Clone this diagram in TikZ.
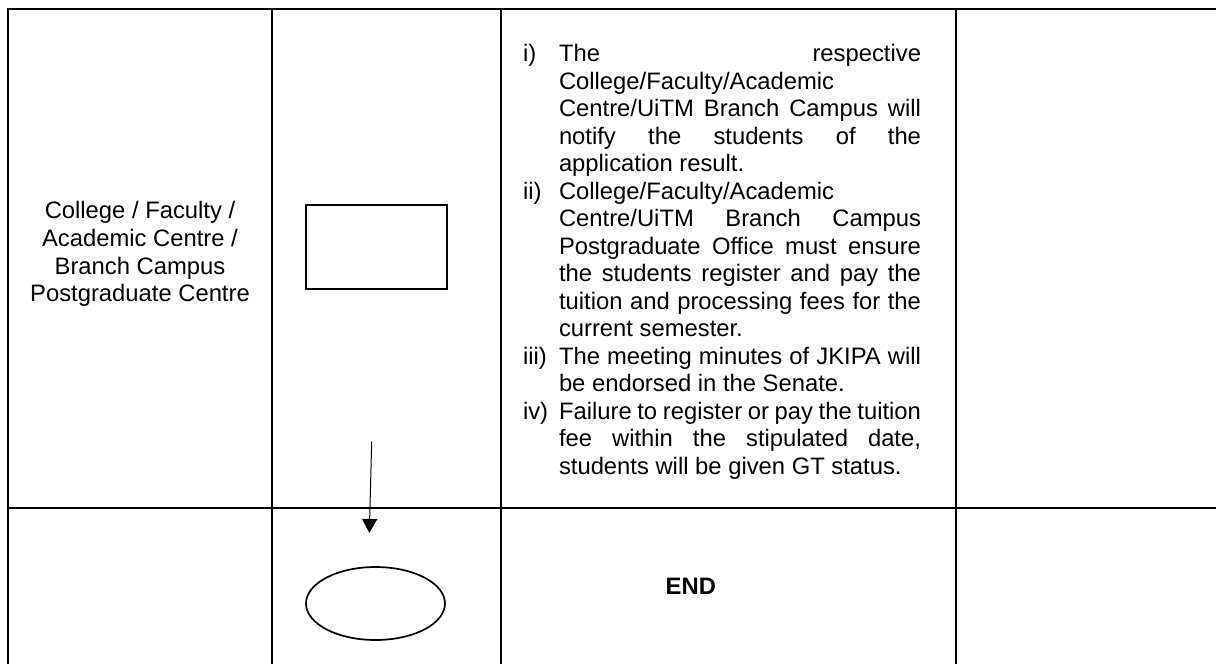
\documentclass[tikz,border=0pt]{standalone}
\usepackage{fontspec}
\setmainfont{Liberation Sans}
\usetikzlibrary{arrows.meta,shapes.geometric}
\newcommand{\jl}[1]{\hbox to 362pt{#1}}
\newcommand{\fl}[1]{\hbox to 362pt{#1\hfil}}
\begin{document}
\begin{tikzpicture}[x=1pt,y=-1pt,
  grid/.style={line width=2pt, line join=miter},
  txt/.style={font=\fontsize{23.8}{27.5}\selectfont, inner sep=0pt, outer sep=0pt},
  line/.style={txt, anchor=base west},
  lab/.style={txt, anchor=base west},
  procbox/.style={draw, line width=2pt, minimum width=141pt, minimum height=84pt, inner sep=0pt},
  terminal/.style={draw, ellipse, line width=1.7pt, minimum width=139pt, minimum height=73pt, inner sep=0pt},
  flow/.style={line width=1pt, -{Triangle[length=14pt,width=15pt]}}]
\useasboundingbox (0,0) rectangle (1216,664);
% table grid
\draw[grid] (8,665) -- (8,9) -- (1217,9);
\draw[grid] (272,9) -- (272,665);
\draw[grid] (500.5,9) -- (500.5,665);
\draw[grid] (956,9) -- (956,665);
\draw[grid] (8,507.5) -- (1217,507.5);
% left column
\node[txt, anchor=base] (o1) at (140,218.5) {College / Faculty /};
\node[txt, anchor=base] (o2) at (140,246.3) {Academic Centre /};
\node[txt, anchor=base] (o3) at (140,274.1) {Branch Campus};
\node[txt, anchor=base] (o4) at (140,301.9) {Postgraduate Centre};
% symbols
\node[procbox] (proc) at (376,247) {};
\node[terminal] (stop) at (375.5,603.5) {};
\coordinate (a1) at (371.7,441.5);
\coordinate (a2) at (369.3,533);
\draw[flow] (a1) -- (a2);
% description
\node[lab] (li) at (523,61.5) {i)};
\node[line] (t1) at (559,61.5) {\jl{The\hfil respective}};
\node[line] (t2) at (559,89) {\fl{College/Faculty/Academic}};
\node[line] (t3) at (559,116.5) {\jl{Centre/UiTM Branch Campus will}};
\node[line] (t4) at (559,144) {\jl{notify\hfil the\hfil students\hfil of\hfil the}};
\node[line] (t5) at (559,171.5) {\fl{application result.}};
\node[lab] (lii) at (523,199) {ii)};
\node[line] (t6) at (559,199) {\fl{College/Faculty/Academic}};
\node[line] (t7) at (559,226.5) {\jl{Centre/UiTM\hfil Branch\hfil Campus}};
\node[line] (t8) at (559,254) {\jl{Postgraduate Office must ensure}};
\node[line] (t9) at (559,281.5) {\jl{the students register and pay the}};
\node[line] (t10) at (559,309) {\jl{tuition and processing fees for the}};
\node[line] (t11) at (559,336.5) {\fl{current semester.}};
\node[lab] (liii) at (523,364) {iii)};
\node[line] (t12) at (559,364) {\jl{The meeting minutes of JKIPA will}};
\node[line] (t13) at (559,391.5) {\fl{be endorsed in the Senate.}};
\node[lab] (liv) at (523,419) {iv)};
\node[line] (t14) at (559,419) {\jl{Failure to register or pay the tuition}};
\node[line] (t15) at (559,446.5) {\jl{fee\hfil within\hfil the\hfil stipulated\hfil date,}};
\node[line] (t16) at (559,474) {\fl{students will be given GT status.}};
\node[txt, anchor=base west, font=\fontsize{23.8}{27.5}\selectfont\bfseries] (endtxt) at (665.7,594) {END};
\end{tikzpicture}
\end{document}
